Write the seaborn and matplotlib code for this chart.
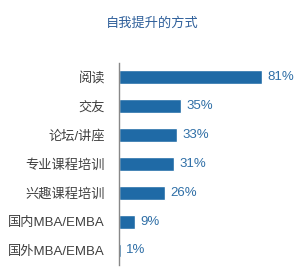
import matplotlib
matplotlib.use("Agg")
import matplotlib.pyplot as plt
import seaborn as sns
import pandas as pd

categories = ["阅读", "交友", "论坛/讲座", "专业课程培训", "兴趣课程培训", "国内MBA/EMBA", "国外MBA/EMBA"]
values = [81, 35, 33, 31, 26, 9, 1]
title = "自我提升的方式"

sns.set_theme(style="white")
plt.rcParams['font.family'] = ['Liberation Sans', 'Noto Sans CJK SC', 'DejaVu Sans']

df = pd.DataFrame({"cat": categories, "val": values})

fig = plt.figure(figsize=(3.04, 2.70), dpi=100)
ax = fig.add_axes([0.391, 0.019, 0.582, 0.748])
sns.barplot(data=df, y="cat", x="val", orient="h", color="#1f6aa6", saturation=1,
            width=0.48, ax=ax)
ax.set_xlim(0, 100)
ax.set_ylim(len(categories) - 0.5, -0.5)
for i, v in enumerate(values):
    ax.text(v + 3.2, i, f"{v}%", va="center", ha="left", fontsize=9.5, color="#2e6ea6")
ax.set_xlabel("")
ax.set_ylabel("")
ax.set_xticks([])
ax.tick_params(axis="y", length=0, pad=10, labelsize=9.5, labelcolor="#404040")
for s in ["top", "right", "bottom"]:
    ax.spines[s].set_visible(False)
ax.spines["left"].set_color("#888888")
ax.spines["left"].set_linewidth(1)
fig.text(0.5, 0.912, title, ha="center", va="center", fontsize=9.5, color="#2e5f9a")
fig.savefig("out.png", dpi=100)
